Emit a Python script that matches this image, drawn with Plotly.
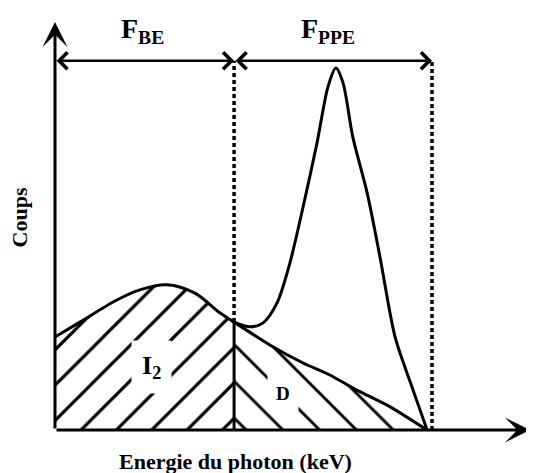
import plotly.graph_objects as go

# ---- data (arbitrary units read from the schematic) ----
bg_x = [0, 0.66, 1.64, 2.25, 2.97, 3.71, 4.38, 4.75]
bg_y = [25.7, 29.8, 35.9, 38.7, 40.1, 37.8, 32.3, 29.8]

d_x = [4.75, 5.70, 6.58, 7.29, 8.01, 8.89, 9.87]
d_y = [29.8, 23.5, 18.5, 15.2, 11.0, 6.4, 0]

peak_x = [4.75, 5.17, 5.52, 5.89, 6.23, 6.58, 6.95, 7.24, 7.45, 7.64, 7.90, 8.28, 8.62, 9.02, 9.42, 9.87]
peak_y = [29.8, 28.5, 29.6, 35.1, 46.1, 61.6, 79.3, 94.8, 100, 95.9, 80.9, 65.5, 47.8, 25.7, 13.3, 0]

x_split = 4.75      # boundary F_BE / F_PPE
x_end = 10.0        # end of F_PPE window
y_window = 102      # level of the window arrows
x_axis_max = 12.6
y_axis_max = 112.7

labels_window = ["F<sub>BE</sub>", "F<sub>PPE</sub>"]
label_pos_x = [2.31, 7.24]

FONT = "Liberation Serif"

fig = go.Figure()

# hatched left region I2
fig.add_trace(go.Scatter(
    x=bg_x, y=bg_y, mode="lines", line=dict(color="black", width=3, shape="spline", smoothing=0.9),
    fill="tozeroy", fillcolor="white",
    fillpattern=dict(shape="/", size=25, solidity=0.13, fgcolor="black", bgcolor="white", fgopacity=1),
    hoverinfo="skip", showlegend=False))

# hatched right region D
fig.add_trace(go.Scatter(
    x=d_x, y=d_y, mode="lines", line=dict(color="black", width=3, shape="spline", smoothing=0.6),
    fill="tozeroy", fillcolor="white",
    fillpattern=dict(shape="\\", size=26, solidity=0.11, fgcolor="black", bgcolor="white", fgopacity=1),
    hoverinfo="skip", showlegend=False))

# photopeak curve
fig.add_trace(go.Scatter(
    x=peak_x, y=peak_y, mode="lines", line=dict(color="black", width=3, shape="spline", smoothing=0.8),
    hoverinfo="skip", showlegend=False))

# solid boundary between I2 and D
fig.add_trace(go.Scatter(
    x=[x_split, x_split], y=[0, bg_y[-1]], mode="lines", line=dict(color="black", width=3),
    hoverinfo="skip", showlegend=False))

# dotted window limits
fig.add_trace(go.Scatter(
    x=[x_split, x_split], y=[bg_y[-1], y_window], mode="lines",
    line=dict(color="black", width=3.5, dash="4px,3px"), hoverinfo="skip", showlegend=False))
fig.add_trace(go.Scatter(
    x=[x_end, x_end], y=[0, y_window], mode="lines",
    line=dict(color="black", width=3.5, dash="4px,3px"), hoverinfo="skip", showlegend=False))

# axes arrows
arrow_common = dict(xref="x", yref="y", axref="x", ayref="y", text="", showarrow=True,
                    arrowcolor="black")
fig.add_annotation(x=0, y=y_axis_max, ax=0, ay=0, arrowhead=3, arrowsize=1.4, arrowwidth=3, **arrow_common)
fig.add_annotation(x=x_axis_max, y=0, ax=0, ay=0, arrowhead=3, arrowsize=1.4, arrowwidth=3, **arrow_common)

# window arrows
fig.add_annotation(x=x_split, y=y_window, ax=0, ay=y_window, arrowhead=4, startarrowhead=4,
                   arrowside="end+start", arrowsize=1.3, startarrowsize=1.3, arrowwidth=2.5, **arrow_common)
fig.add_annotation(x=x_end, y=y_window, ax=x_split, ay=y_window, arrowhead=4, startarrowhead=4,
                   arrowside="end+start", arrowsize=1.3, startarrowsize=1.3, arrowwidth=2.5, **arrow_common)

# window labels
for lx, lt in zip(label_pos_x, labels_window):
    fig.add_annotation(x=lx, y=y_window + 3, xref="x", yref="y", text="<b>" + lt + "</b>",
                       showarrow=False, yanchor="bottom",
                       font=dict(family=FONT, size=28, color="black"))

# region labels
fig.add_annotation(x=2.57, y=17.4, xref="x", yref="y", text="<b>I<sub>2</sub></b>", showarrow=False,
                   bgcolor="white", borderpad=10, font=dict(family=FONT, size=26, color="black"))
fig.add_annotation(x=6.05, y=10.2, xref="x", yref="y", text="<b>D</b>", showarrow=False,
                   bgcolor="white", borderpad=8, font=dict(family=FONT, size=19, color="black"))

# axis titles
fig.add_annotation(x=-0.94, y=58.6, xref="x", yref="y", text="<b>Coups</b>", showarrow=False, textangle=-90,
                   font=dict(family=FONT, size=22, color="black"))
fig.add_annotation(x=4.8, y=-8.6, xref="x", yref="y", text="<b>Energie du photon (keV)</b>", showarrow=False,
                   font=dict(family=FONT, size=22, color="black"))

# the page body adds an 8px offset; the figure covers page pixels 8..534 x 8..473
fig.update_layout(
    width=526, height=465, margin=dict(l=0, r=0, t=0, b=0),
    paper_bgcolor="white", plot_bgcolor="white", showlegend=False,
    xaxis=dict(range=[(8 - 55) / 37.7, (534 - 55) / 37.7], visible=False, fixedrange=True),
    yaxis=dict(range=[(430 - 473) / 3.62, (430 - 8) / 3.62], visible=False, fixedrange=True),
)

fig.write_html("out.html")
